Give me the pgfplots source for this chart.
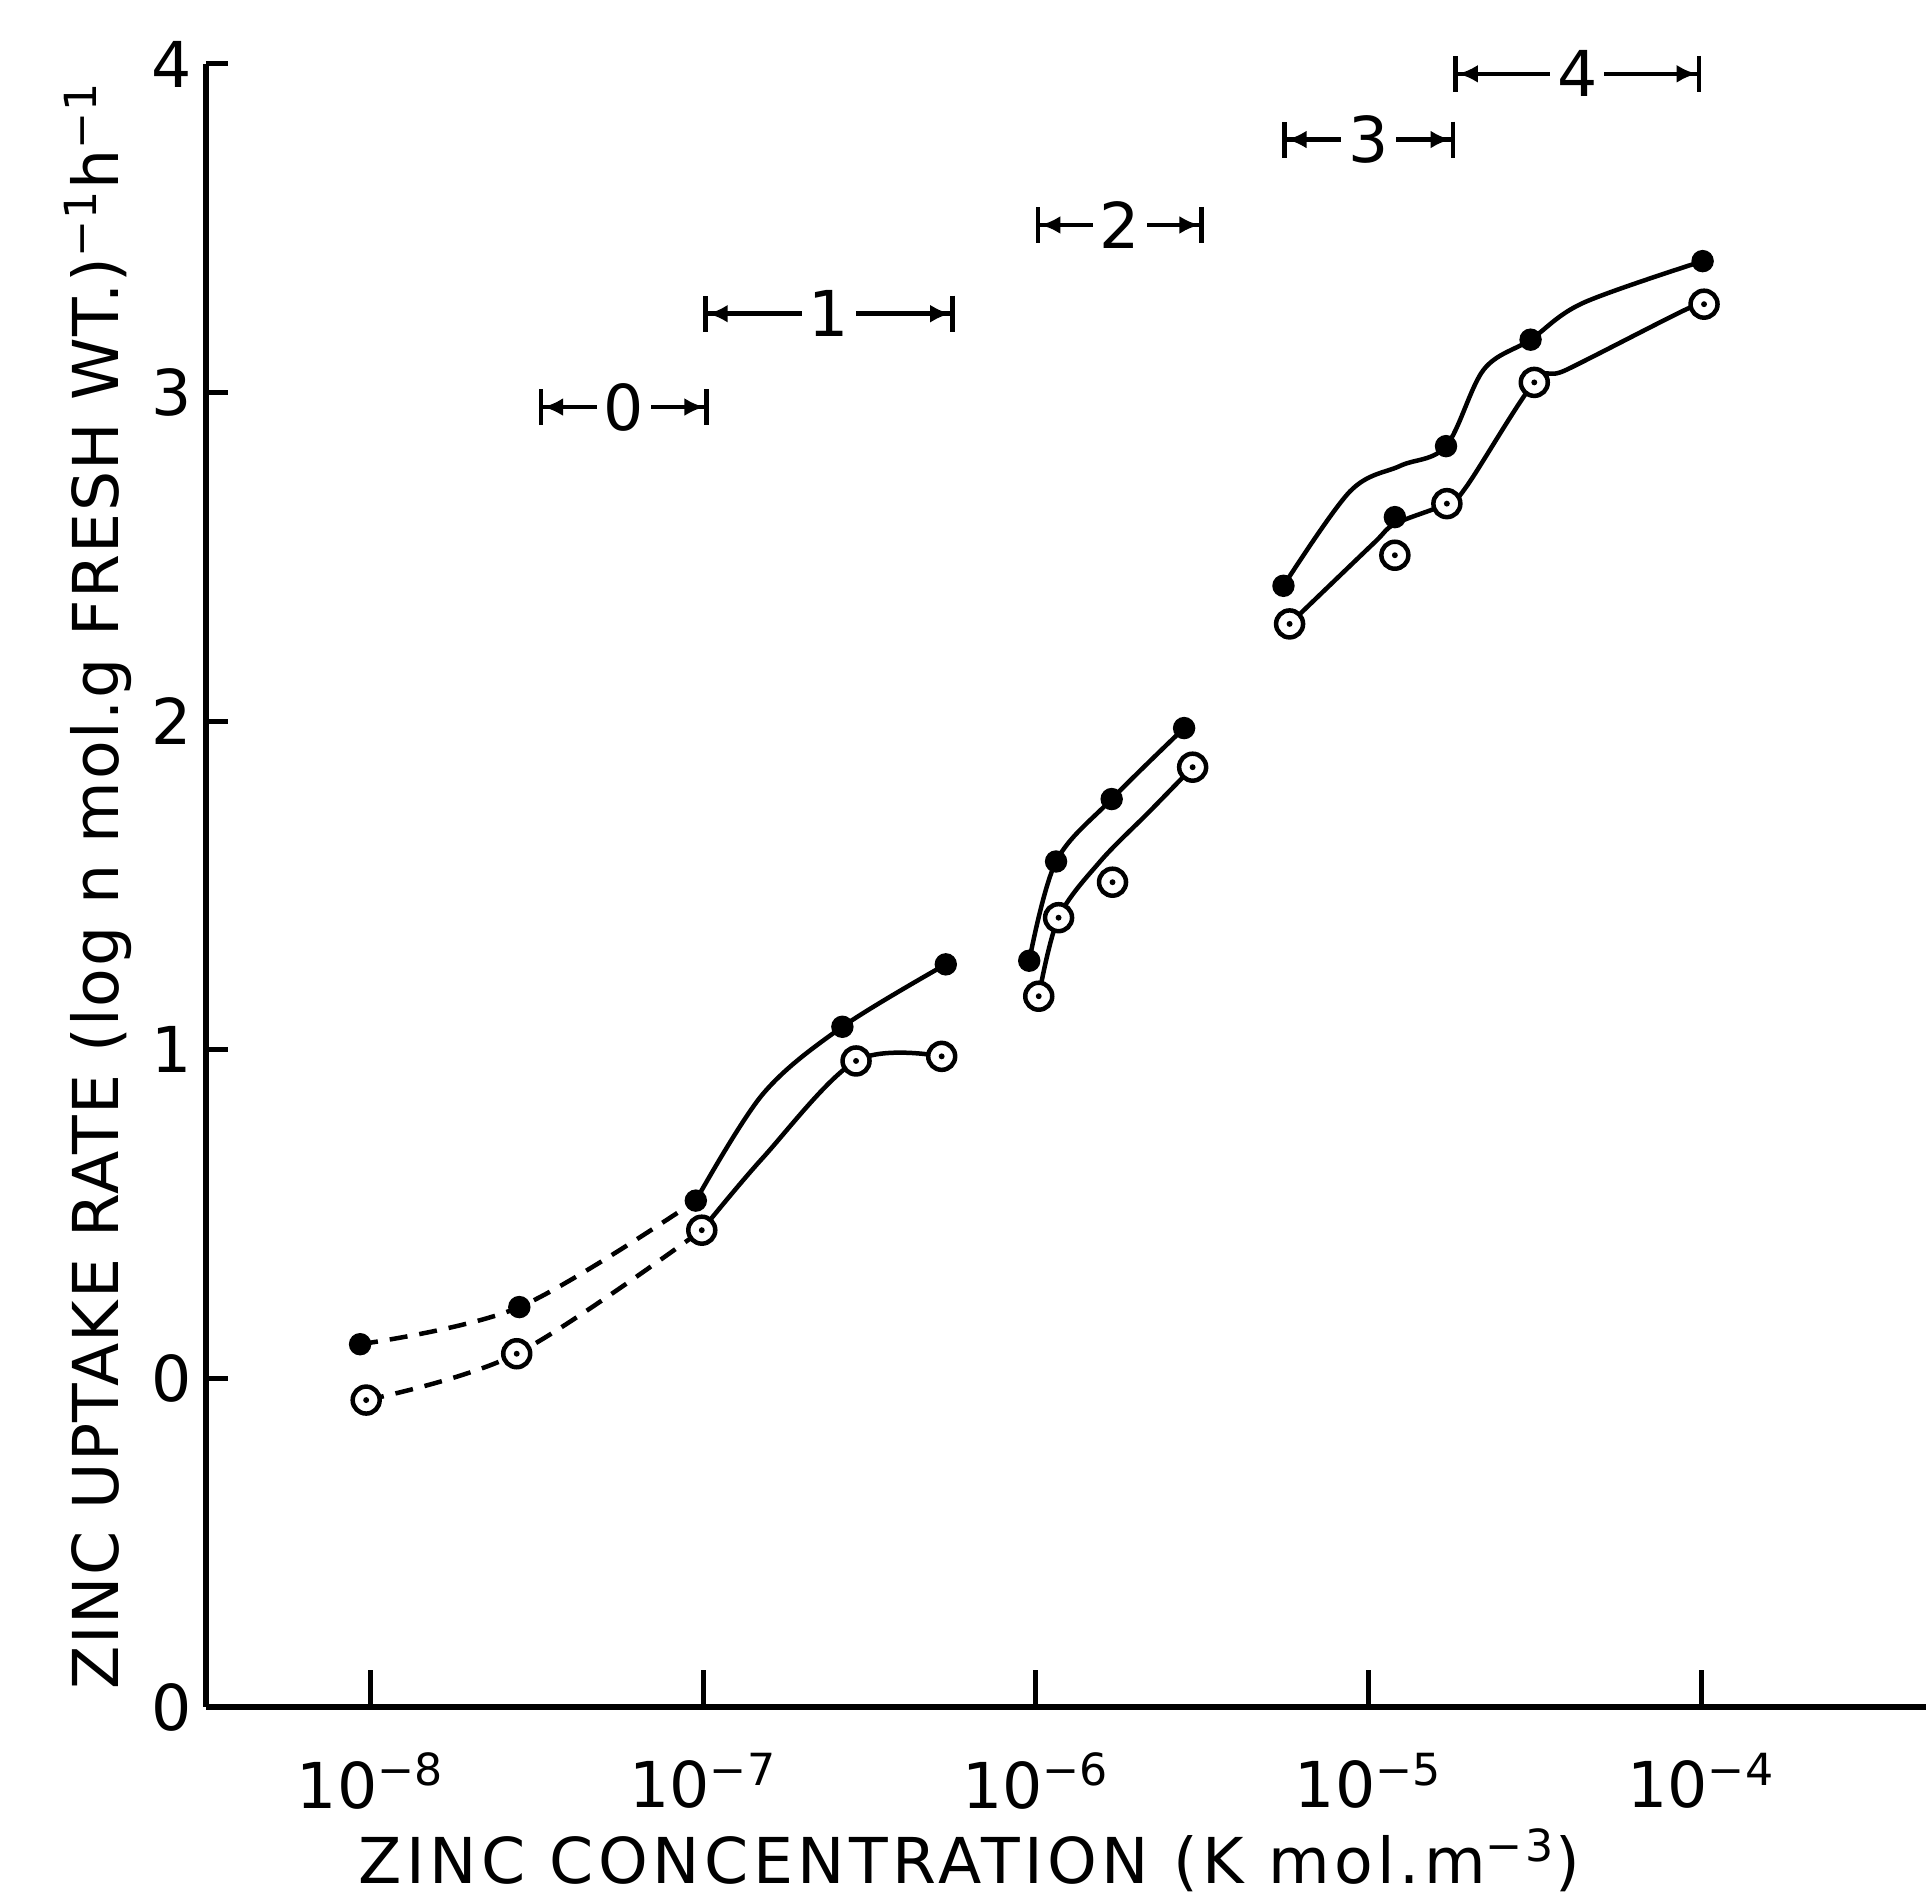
\documentclass[border=0pt]{standalone}
\usepackage{fontspec}
\setmainfont{DejaVu Sans}
\usepackage{pgfplots}
\pgfplotsset{compat=1.18}
\usetikzlibrary{arrows.meta}

\tikzset{
  rangebar/.style={line width=0.45mm,
    arrows={Bar[width=3.6mm]Latex[length=2mm,width=1.8mm]}-{Latex[length=2mm,width=1.8mm]Bar[width=3.6mm]}},
  curve/.style={line width=0.45mm, smooth, tension=0.55, no marks},
}

\begin{document}
\fontsize{18pt}{21pt}\selectfont
\begin{tikzpicture}[font=\fontsize{18pt}{21pt}\selectfont]
\begin{axis}[
  width=17.2cm, height=16.43cm, scale only axis,
  xmode=log, xmin=3.2e-9, xmax=4.74e-4,
  ymin=-1, ymax=4,
  clip=false,
  axis x line*=bottom, axis y line*=left,
  axis line style={-, line width=0.6mm},
  tick align=inside,
  major tick length=2.2mm,
  every tick/.style={black, line width=0.5mm},
  xtick=\empty,
  extra x ticks={1e-8,1e-7,1e-6,1e-5,1e-4},
  extra x tick labels={10\textsuperscript{−8},10\textsuperscript{−7},10\textsuperscript{−6},10\textsuperscript{−5},10\textsuperscript{−4}},
  extra x tick style={major tick length=3.7mm},
  xminorticks=false,
  ytick={-1,0,1,2,3,4},
  yticklabels={0,0,1,2,3,4},
  xticklabel style={anchor=center, yshift=-7.4mm},
  yticklabel style={anchor=center, xshift=-3.4mm},
  xlabel={\addfontfeatures{LetterSpace=7}ZINC CONCENTRATION (K mol.m\textsuperscript{−3})},
  ylabel={\addfontfeatures{LetterSpace=2.5}ZINC UPTAKE RATE (log n mol.g FRESH WT.)\textsuperscript{−1}h\textsuperscript{−1}},
  xlabel style={at={(axis description cs:0.444,-0.0931)}, anchor=center},
  ylabel style={at={(axis description cs:-0.0628,0.5)}, anchor=center},
]
\coordinate (sw) at (rel axis cs:0,0);
\coordinate (ne) at (rel axis cs:1,1);

% ranges 0-4
\addplot[rangebar] coordinates {(3.2e-8,2.956) (1.04e-7,2.956)} node[pos=0.5, fill=white, inner sep=2pt] {0};
\addplot[rangebar] coordinates {(1e-7,3.24) (5.7e-7,3.24)} node[pos=0.5, fill=white, inner sep=2pt] {1};
\addplot[rangebar] coordinates {(1e-6,3.51) (3.2e-6,3.51)} node[pos=0.5, fill=white, inner sep=2pt] {2};
\addplot[rangebar] coordinates {(5.5e-6,3.77) (1.82e-5,3.77)} node[pos=0.5, fill=white, inner sep=2pt] {3};
\addplot[rangebar] coordinates {(1.8e-5,3.97) (1e-4,3.97)} node[pos=0.5, fill=white, inner sep=2pt] {4};

% filled series curves
\addplot[curve, dash pattern=on 1.8mm off 1.2mm] coordinates {(9.3e-9,0.104) (2.8e-8,0.217) (9.5e-8,0.541)};
\addplot[curve] coordinates {(9.5e-8,0.541) (1.51e-7,0.865) (2.62e-7,1.07) (5.36e-7,1.26)};
\addplot[curve] coordinates {(9.55e-7,1.271) (1.15e-6,1.573) (1.69e-6,1.763) (2.79e-6,1.979)};
\addplot[curve] coordinates {(5.55e-6,2.412) (8.79e-6,2.699) (1.245e-5,2.777) (1.71e-5,2.837)
  (2.22e-5,3.07) (3.07e-5,3.161) (4.42e-5,3.273) (1.01e-4,3.40)};

% open series curves
\addplot[curve, dash pattern=on 1.8mm off 1.2mm] coordinates {(9.7e-9,-0.066) (2.75e-8,0.075) (9.9e-8,0.451)};
\addplot[curve] coordinates {(9.9e-8,0.451) (1.51e-7,0.671) (2.88e-7,0.966) (5.21e-7,0.98)};
\addplot[curve] coordinates {(1.02e-6,1.163) (1.17e-6,1.402) (1.56e-6,1.573) (2.20e-6,1.726) (2.96e-6,1.86)};
\addplot[curve] coordinates {(5.79e-6,2.296) (1.03e-5,2.539) (1.2e-5,2.60) (1.72e-5,2.662)
  (1.97e-5,2.714) (3.15e-5,3.031) (3.95e-5,3.07) (8.87e-5,3.25) (1.02e-4,3.269)};

% filled marks
\addplot[only marks, mark=*, mark size=1.05mm, black] coordinates {
  (9.3e-9,0.104) (2.8e-8,0.217) (9.5e-8,0.541) (2.62e-7,1.07) (5.36e-7,1.26)
  (9.55e-7,1.271) (1.15e-6,1.573) (1.69e-6,1.763) (2.79e-6,1.979)
  (5.55e-6,2.412) (1.2e-5,2.621) (1.71e-5,2.837) (3.07e-5,3.161) (1.01e-4,3.40)};

% open marks
\addplot[only marks, mark=*, mark size=1.35mm, mark options={fill=white, draw=black, line width=0.45mm}] coordinates {
  (9.7e-9,-0.066) (2.75e-8,0.075) (9.9e-8,0.451) (2.88e-7,0.966) (5.21e-7,0.98)
  (1.02e-6,1.163) (1.17e-6,1.402) (1.70e-6,1.51) (2.96e-6,1.86)
  (5.79e-6,2.296) (1.2e-5,2.505) (1.72e-5,2.662) (3.15e-5,3.031) (1.02e-4,3.269)};
\addplot[only marks, mark=*, mark size=0.22mm, black] coordinates {
  (9.7e-9,-0.066) (2.75e-8,0.075) (9.9e-8,0.451) (2.88e-7,0.966) (5.21e-7,0.98)
  (1.02e-6,1.163) (1.17e-6,1.402) (1.70e-6,1.51) (2.96e-6,1.86)
  (5.79e-6,2.296) (1.2e-5,2.505) (1.72e-5,2.662) (3.15e-5,3.031) (1.02e-4,3.269)};
\end{axis}
\pgfresetboundingbox
\path ([xshift=-20.6mm,yshift=-18.8mm]sw) rectangle ([yshift=6.4mm]ne);
\end{tikzpicture}
\end{document}
